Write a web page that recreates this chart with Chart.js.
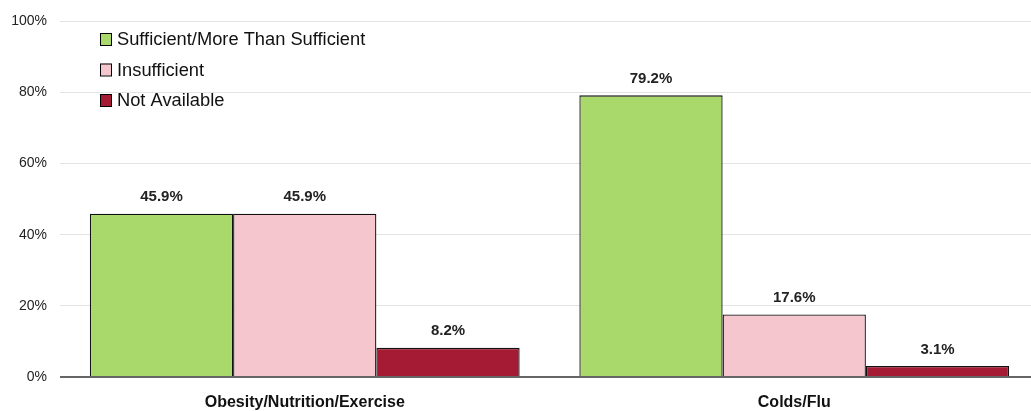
<!DOCTYPE html>
<html>
<head>
<meta charset="utf-8">
<script src="https://cdn.jsdelivr.net/npm/chart.js@4.4.0/dist/chart.umd.min.js"></script>
<style>
html,body{margin:0;padding:0;background:#fff;overflow:hidden;}
#wrap{width:1031px;height:411px;position:relative;overflow:hidden;}
</style>
</head>
<body>
<div id="wrap"><canvas id="c" width="1039" height="411"></canvas></div>
<script>
const categories = ["Obesity/Nutrition/Exercise", "Colds/Flu"];
const seriesNames = ["Sufficient/More Than Sufficient", "Insufficient", "Not Available"];
const sufficient = [45.9, 79.2];
const insufficient = [45.9, 17.6];
const notAvailable = [8.2, 3.1];
const yTicks = [0, 20, 40, 60, 80, 100];
const colors = ["#a8d96a", "#f6c6ce", "#a51b33"];

const FONT = "'Liberation Sans', Arial, sans-serif";

const labelPlugin = {
  id: 'barLabels',
  afterDatasetsDraw(chart) {
    const ctx = chart.ctx;
    ctx.save();
    ctx.font = "bold 15px " + FONT;
    ctx.fillStyle = "#222";
    ctx.textAlign = "center";
    ctx.textBaseline = "bottom";
    chart.data.datasets.forEach((ds, i) => {
      const meta = chart.getDatasetMeta(i);
      meta.data.forEach((bar, j) => {
        ctx.fillText(ds.data[j].toFixed(1) + "%", bar.x, bar.y - 9);
      });
    });
    ctx.restore();
  }
};

const legendPlugin = {
  id: 'insideLegend',
  afterDraw(chart) {
    const ctx = chart.ctx;
    ctx.save();
    ctx.font = "18.3px " + FONT;
    ctx.textBaseline = "middle";
    ctx.textAlign = "left";
    chart.data.datasets.forEach((ds, i) => {
      const y = 39 + i * 30.5;
      ctx.fillStyle = ds.backgroundColor;
      ctx.fillRect(100, y - 6, 11, 12);
      ctx.strokeStyle = "#000";
      ctx.lineWidth = 1;
      ctx.strokeRect(100.5, y - 5.5, 11, 12);
      ctx.fillStyle = "#111";
      ctx.fillText(ds.label, 117, y + 1);
    });
    ctx.restore();
  }
};

new Chart(document.getElementById('c'), {
  type: 'bar',
  data: {
    labels: categories,
    datasets: [
      { label: seriesNames[0], data: sufficient, backgroundColor: colors[0] },
      { label: seriesNames[1], data: insufficient, backgroundColor: colors[1] },
      { label: seriesNames[2], data: notAvailable, backgroundColor: colors[2] }
    ].map(d => Object.assign(d, { borderColor: "#111", borderWidth: 1.3, borderSkipped: 'bottom', categoryPercentage: 0.878, barPercentage: 1.0 }))
  },
  options: {
    responsive: false,
    animation: false,
    devicePixelRatio: 1,
    layout: { padding: { top: 13, right: 0, left: 0, bottom: 0 } },
    plugins: { legend: { display: false }, tooltip: { enabled: false } },
    scales: {
      x: {
        afterFit(scale) { scale.height = 34; },
        grid: { display: false, drawTicks: false },
        border: { display: false },
        ticks: { font: { family: FONT, size: 16, weight: 'bold' }, color: "#111", padding: 16 }
      },
      y: {
        min: 0, max: 100,
        afterBuildTicks(scale) { scale.ticks = yTicks.map(v => ({ value: v })); },
        afterFit(scale) { scale.width = 60; },
        grid: {
          color: ctx => ctx.tick && ctx.tick.value === 0 ? "#666" : "#e3e3e3",
          lineWidth: ctx => ctx.tick && ctx.tick.value === 0 ? 2 : 1,
          drawTicks: false
        },
        border: { display: false },
        ticks: { font: { family: FONT, size: 14 }, color: "#222", padding: 13, callback: v => v + "%" }
      }
    }
  },
  plugins: [labelPlugin, legendPlugin]
});
</script>
</body>
</html>
